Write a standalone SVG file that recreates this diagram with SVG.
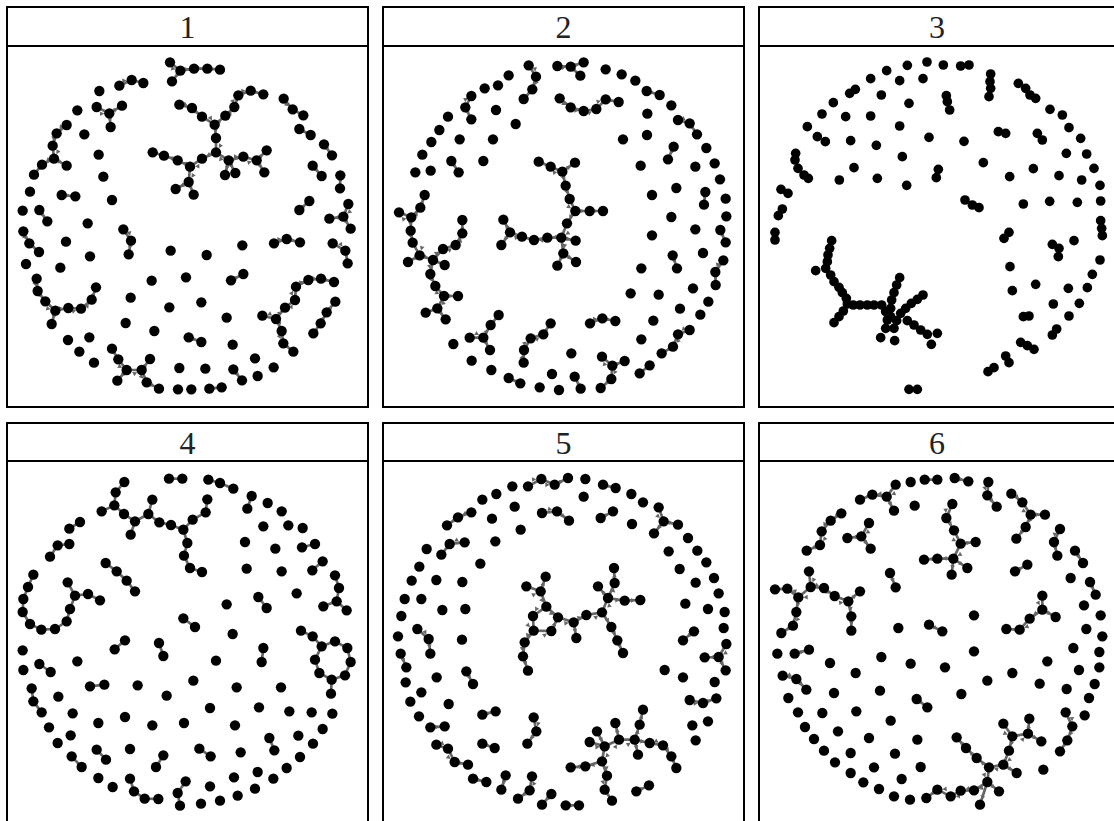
<svg xmlns="http://www.w3.org/2000/svg" width="1114" height="821" viewBox="0 0 1114 821">
<style>
.e{fill:none;stroke:#666;stroke-width:8;stroke-linejoin:round}
.a polyline{marker-mid:url(#ar);marker-end:url(#ar)}
circle{fill:#000}
.fr{fill:#fff;stroke:#000;stroke-width:2}
.hl{stroke:#000;stroke-width:2}
.t{font-family:"Liberation Serif","Times New Roman",serif;font-size:32px;fill:#222;text-anchor:middle}
</style>
<defs>
<marker id="ar" markerUnits="userSpaceOnUse" markerWidth="40" markerHeight="20" refX="28" refY="7" orient="auto" overflow="visible"><path d="M0,0 L13,7 L0,14 z" fill="#666"/></marker>
</defs>
<rect width="1114" height="821" fill="#fff"/>

<!-- Panel 1 -->
<g id="panel1">
<rect class="fr" x="7" y="7" width="361" height="400"/>
<line class="hl" x1="7" y1="46" x2="368" y2="46"/>
<text class="t" x="187.5" y="38">1</text>
<g transform="translate(0,0) scale(0.333333)">
<g id="p1-edges" class="e a">
<polyline points="510,187 541,212 582,206 622,206 660,209"/>
<polyline points="541,212 516,244"/>
<polyline points="358,257 395,240 430,249"/>
<polyline points="290,321 328,340 366,317"/>
<polyline points="328,340 332,381"/>
<polyline points="200,375 170,400 158,437 162,476 126,494 102,524"/>
<polyline points="162,476 200,497"/>
<polyline points="185,585 226,589"/>
<polyline points="118,630 142,664"/>
<polyline points="70,694 88,730 117,756"/>
<polyline points="370,688 393,722 386,763"/>
<polyline points="110,836 113,873 136,904 166,932 205,924 243,926 275,899 288,862"/>
<polyline points="166,932 155,972"/>
<polyline points="336,1046 355,1078 380,1110 425,1110 450,1077"/>
<polyline points="380,1110 352,1142"/>
<polyline points="425,1110 440,1147 477,1166"/>
<polyline points="566,1012 604,1026"/>
<polyline points="628,1166 665,1162"/>
<polyline points="700,1108 726,1141"/>
<polyline points="693,841 730,822"/>
<polyline points="822,730 860,717 900,727"/>
<polyline points="898,630 928,603"/>
<polyline points="787,947 828,957 845,993 850,1030 880,1055"/>
<polyline points="828,957 855,923 885,900 888,860 925,840 963,836 1002,846"/>
<polyline points="940,1000 962,970 980,937 1006,905"/>
<polyline points="851,296 878,328 910,346"/>
<polyline points="898,387 932,405"/>
<polyline points="972,433 996,466"/>
<polyline points="938,497 965,528"/>
<polyline points="1021,526 1020,565"/>
<polyline points="1045,612 1030,650 988,656"/>
<polyline points="1030,650 1052,686"/>
<polyline points="998,730 1036,752 1043,790"/>
<polyline points="538,314 576,324 606,350 644,374 648,414 648,457 606,476 570,500 533,481 492,467 458,457"/>
<polyline points="644,374 676,347 703,321 715,286 752,272 790,283"/>
<polyline points="570,500 566,546 527,567"/>
<polyline points="566,546 581,584"/>
<polyline points="648,457 686,481 730,470 770,481 800,451"/>
<polyline points="686,481 675,525"/>
<polyline points="686,481 706,519"/>
<polyline points="770,481 793,517"/>
</g>
<g id="p1-nodes">
<circle cx="510" cy="187" r="15.5"/><circle cx="541" cy="212" r="15.5"/><circle cx="582" cy="206" r="15.5"/><circle cx="622" cy="206" r="15.5"/><circle cx="660" cy="209" r="15.5"/><circle cx="516" cy="244" r="15.5"/>
<circle cx="358" cy="257" r="15.5"/><circle cx="395" cy="240" r="15.5"/><circle cx="430" cy="249" r="15.5"/>
<circle cx="290" cy="321" r="15.5"/><circle cx="328" cy="340" r="15.5"/><circle cx="366" cy="317" r="15.5"/><circle cx="332" cy="381" r="15.5"/>
<circle cx="200" cy="375" r="15.5"/><circle cx="170" cy="400" r="15.5"/><circle cx="158" cy="437" r="15.5"/><circle cx="162" cy="476" r="15.5"/><circle cx="126" cy="494" r="15.5"/><circle cx="102" cy="524" r="15.5"/><circle cx="200" cy="497" r="15.5"/>
<circle cx="185" cy="585" r="15.5"/><circle cx="226" cy="589" r="15.5"/><circle cx="118" cy="630" r="15.5"/><circle cx="142" cy="664" r="15.5"/>
<circle cx="70" cy="694" r="15.5"/><circle cx="88" cy="730" r="15.5"/><circle cx="117" cy="756" r="15.5"/>
<circle cx="370" cy="688" r="15.5"/><circle cx="393" cy="722" r="15.5"/><circle cx="386" cy="763" r="15.5"/>
<circle cx="110" cy="836" r="15.5"/><circle cx="113" cy="873" r="15.5"/><circle cx="136" cy="904" r="15.5"/><circle cx="166" cy="932" r="15.5"/><circle cx="205" cy="924" r="15.5"/><circle cx="243" cy="926" r="15.5"/><circle cx="275" cy="899" r="15.5"/><circle cx="288" cy="862" r="15.5"/><circle cx="155" cy="972" r="15.5"/>
<circle cx="336" cy="1046" r="15.5"/><circle cx="355" cy="1078" r="15.5"/><circle cx="380" cy="1110" r="15.5"/><circle cx="425" cy="1110" r="15.5"/><circle cx="450" cy="1077" r="15.5"/><circle cx="352" cy="1142" r="15.5"/><circle cx="440" cy="1147" r="15.5"/><circle cx="477" cy="1166" r="15.5"/>
<circle cx="566" cy="1012" r="15.5"/><circle cx="604" cy="1026" r="15.5"/><circle cx="628" cy="1166" r="15.5"/><circle cx="665" cy="1162" r="15.5"/><circle cx="700" cy="1108" r="15.5"/><circle cx="726" cy="1141" r="15.5"/><circle cx="693" cy="841" r="15.5"/><circle cx="730" cy="822" r="15.5"/>
<circle cx="822" cy="730" r="15.5"/><circle cx="860" cy="717" r="15.5"/><circle cx="900" cy="727" r="15.5"/><circle cx="898" cy="630" r="15.5"/><circle cx="928" cy="603" r="15.5"/>
<circle cx="787" cy="947" r="15.5"/><circle cx="828" cy="957" r="15.5"/><circle cx="845" cy="993" r="15.5"/><circle cx="850" cy="1030" r="15.5"/><circle cx="880" cy="1055" r="15.5"/><circle cx="855" cy="923" r="15.5"/><circle cx="885" cy="900" r="15.5"/><circle cx="888" cy="860" r="15.5"/><circle cx="925" cy="840" r="15.5"/><circle cx="963" cy="836" r="15.5"/><circle cx="1002" cy="846" r="15.5"/>
<circle cx="940" cy="1000" r="15.5"/><circle cx="962" cy="970" r="15.5"/><circle cx="980" cy="937" r="15.5"/><circle cx="1006" cy="905" r="15.5"/>
<circle cx="851" cy="296" r="15.5"/><circle cx="878" cy="328" r="15.5"/><circle cx="910" cy="346" r="15.5"/><circle cx="898" cy="387" r="15.5"/><circle cx="932" cy="405" r="15.5"/><circle cx="972" cy="433" r="15.5"/><circle cx="996" cy="466" r="15.5"/><circle cx="938" cy="497" r="15.5"/><circle cx="965" cy="528" r="15.5"/><circle cx="1021" cy="526" r="15.5"/><circle cx="1020" cy="565" r="15.5"/>
<circle cx="1045" cy="612" r="15.5"/><circle cx="1030" cy="650" r="15.5"/><circle cx="988" cy="656" r="15.5"/><circle cx="1052" cy="686" r="15.5"/><circle cx="998" cy="730" r="15.5"/><circle cx="1036" cy="752" r="15.5"/><circle cx="1043" cy="790" r="15.5"/>
<circle cx="538" cy="314" r="15.5"/><circle cx="576" cy="324" r="15.5"/><circle cx="606" cy="350" r="15.5"/><circle cx="644" cy="374" r="15.5"/><circle cx="648" cy="414" r="15.5"/><circle cx="648" cy="457" r="15.5"/><circle cx="606" cy="476" r="15.5"/><circle cx="570" cy="500" r="15.5"/><circle cx="533" cy="481" r="15.5"/><circle cx="492" cy="467" r="15.5"/><circle cx="458" cy="457" r="15.5"/>
<circle cx="676" cy="347" r="15.5"/><circle cx="703" cy="321" r="15.5"/><circle cx="715" cy="286" r="15.5"/><circle cx="752" cy="272" r="15.5"/><circle cx="790" cy="283" r="15.5"/>
<circle cx="566" cy="546" r="15.5"/><circle cx="527" cy="567" r="15.5"/><circle cx="581" cy="584" r="15.5"/><circle cx="686" cy="481" r="15.5"/><circle cx="730" cy="470" r="15.5"/><circle cx="770" cy="481" r="15.5"/><circle cx="800" cy="451" r="15.5"/><circle cx="675" cy="525" r="15.5"/><circle cx="706" cy="519" r="15.5"/><circle cx="793" cy="517" r="15.5"/>
<circle cx="298" cy="273" r="15.5"/><circle cx="232" cy="331" r="15.5"/><circle cx="253" cy="403" r="15.5"/><circle cx="296" cy="464" r="15.5"/><circle cx="310" cy="530" r="15.5"/><circle cx="90" cy="575" r="15.5"/><circle cx="336" cy="600" r="15.5"/><circle cx="68" cy="632" r="15.5"/><circle cx="263" cy="670" r="15.5"/><circle cx="198" cy="725" r="15.5"/><circle cx="270" cy="769" r="15.5"/><circle cx="78" cy="792" r="15.5"/><circle cx="181" cy="803" r="15.5"/><circle cx="392" cy="893" r="15.5"/><circle cx="377" cy="969" r="15.5"/><circle cx="204" cy="1020" r="15.5"/><circle cx="268" cy="1012" r="15.5"/><circle cx="238" cy="1055" r="15.5"/><circle cx="282" cy="1088" r="15.5"/><circle cx="463" cy="993" r="15.5"/><circle cx="455" cy="842" r="15.5"/><circle cx="508" cy="922" r="15.5"/><circle cx="512" cy="752" r="15.5"/><circle cx="558" cy="832" r="15.5"/><circle cx="604" cy="907" r="15.5"/><circle cx="538" cy="1104" r="15.5"/><circle cx="616" cy="1106" r="15.5"/><circle cx="534" cy="1168" r="15.5"/><circle cx="574" cy="1168" r="15.5"/><circle cx="620" cy="765" r="15.5"/><circle cx="727" cy="736" r="15.5"/><circle cx="680" cy="953" r="15.5"/><circle cx="698" cy="1034" r="15.5"/><circle cx="765" cy="1075" r="15.5"/><circle cx="773" cy="1128" r="15.5"/><circle cx="821" cy="1102" r="15.5"/>
</g>
</g>
</g>

<!-- Panel 2 -->
<g id="panel2">
<rect class="fr" x="383" y="7" width="361" height="400"/>
<line class="hl" x1="383" y1="46" x2="744" y2="46"/>
<text class="t" x="563.5" y="38">2</text>
<g transform="translate(378,0) scale(0.333333)">
<g id="p2-edges" class="e a">
<polyline points="452,196 474,230 463,268 437,297"/>
<polyline points="280,288 262,322 280,358"/>
<polyline points="220,483 242,517"/>
<polyline points="538,198 578,200 617,187"/>
<polyline points="578,200 607,227"/>
<polyline points="806,273 845,285"/>
<polyline points="900,360 935,370 957,403"/>
<polyline points="887,440 870,478"/>
<polyline points="982,576 978,614"/>
<polyline points="1027,690 1043,727"/>
<polyline points="884,766 897,805"/>
<polyline points="1036,781 1012,816 1013,855"/>
<polyline points="935,990 900,1003 885,1040 851,1060"/>
<polyline points="815,1096 785,1120"/>
<polyline points="545,295 578,322 617,333 655,327 683,298 722,306"/>
<polyline points="672,1070 703,1097 740,1083"/>
<polyline points="703,1097 700,1137 668,1164"/>
<polyline points="608,1166 590,1130"/>
<polyline points="427,1150 392,1134"/>
<polyline points="275,1013 316,1013 336,1050"/>
<polyline points="316,1013 338,975 362,945"/>
<polyline points="437,1088 438,1050 458,1015 496,1003 518,970"/>
<polyline points="636,970 673,955 712,963"/>
<polyline points="482,485 518,500 553,515 591,488"/>
<polyline points="553,515 563,557 575,597 592,633 635,633 675,633"/>
<polyline points="592,633 567,670 550,713 508,713 468,720 432,710 396,697 376,659"/>
<polyline points="396,697 370,735"/>
<polyline points="550,713 593,722"/>
<polyline points="550,713 556,760 538,797"/>
<polyline points="556,760 594,786"/>
<polyline points="63,637 100,652 127,623 140,585"/>
<polyline points="100,652 98,692 104,728 125,766 90,786"/>
<polyline points="125,766 165,780 200,795"/>
<polyline points="165,780 195,747 233,735 253,700 253,660"/>
<polyline points="165,780 157,822 172,858 198,888 240,888"/>
<polyline points="198,888 178,925 143,938"/>
<polyline points="178,925 203,958"/>
</g>
<g id="p2-nodes">
<circle cx="452" cy="196" r="15.5"/><circle cx="474" cy="230" r="15.5"/><circle cx="463" cy="268" r="15.5"/><circle cx="437" cy="297" r="15.5"/>
<circle cx="280" cy="288" r="15.5"/><circle cx="262" cy="322" r="15.5"/><circle cx="280" cy="358" r="15.5"/><circle cx="220" cy="483" r="15.5"/><circle cx="242" cy="517" r="15.5"/>
<circle cx="538" cy="198" r="15.5"/><circle cx="578" cy="200" r="15.5"/><circle cx="617" cy="187" r="15.5"/><circle cx="607" cy="227" r="15.5"/>
<circle cx="806" cy="273" r="15.5"/><circle cx="845" cy="285" r="15.5"/><circle cx="900" cy="360" r="15.5"/><circle cx="935" cy="370" r="15.5"/><circle cx="957" cy="403" r="15.5"/><circle cx="887" cy="440" r="15.5"/><circle cx="870" cy="478" r="15.5"/>
<circle cx="982" cy="576" r="15.5"/><circle cx="978" cy="614" r="15.5"/><circle cx="1027" cy="690" r="15.5"/><circle cx="1043" cy="727" r="15.5"/><circle cx="884" cy="766" r="15.5"/><circle cx="897" cy="805" r="15.5"/>
<circle cx="1036" cy="781" r="15.5"/><circle cx="1012" cy="816" r="15.5"/><circle cx="1013" cy="855" r="15.5"/>
<circle cx="935" cy="990" r="15.5"/><circle cx="900" cy="1003" r="15.5"/><circle cx="885" cy="1040" r="15.5"/><circle cx="851" cy="1060" r="15.5"/><circle cx="815" cy="1096" r="15.5"/><circle cx="785" cy="1120" r="15.5"/>
<circle cx="545" cy="295" r="15.5"/><circle cx="578" cy="322" r="15.5"/><circle cx="617" cy="333" r="15.5"/><circle cx="655" cy="327" r="15.5"/><circle cx="683" cy="298" r="15.5"/><circle cx="722" cy="306" r="15.5"/>
<circle cx="672" cy="1070" r="15.5"/><circle cx="703" cy="1097" r="15.5"/><circle cx="740" cy="1083" r="15.5"/><circle cx="700" cy="1137" r="15.5"/><circle cx="668" cy="1164" r="15.5"/>
<circle cx="608" cy="1166" r="15.5"/><circle cx="590" cy="1130" r="15.5"/><circle cx="427" cy="1150" r="15.5"/><circle cx="392" cy="1134" r="15.5"/>
<circle cx="275" cy="1013" r="15.5"/><circle cx="316" cy="1013" r="15.5"/><circle cx="336" cy="1050" r="15.5"/><circle cx="338" cy="975" r="15.5"/><circle cx="362" cy="945" r="15.5"/>
<circle cx="437" cy="1088" r="15.5"/><circle cx="438" cy="1050" r="15.5"/><circle cx="458" cy="1015" r="15.5"/><circle cx="496" cy="1003" r="15.5"/><circle cx="518" cy="970" r="15.5"/>
<circle cx="636" cy="970" r="15.5"/><circle cx="673" cy="955" r="15.5"/><circle cx="712" cy="963" r="15.5"/>
<circle cx="482" cy="485" r="15.5"/><circle cx="518" cy="500" r="15.5"/><circle cx="553" cy="515" r="15.5"/><circle cx="591" cy="488" r="15.5"/><circle cx="563" cy="557" r="15.5"/><circle cx="575" cy="597" r="15.5"/><circle cx="592" cy="633" r="15.5"/><circle cx="635" cy="633" r="15.5"/><circle cx="675" cy="633" r="15.5"/>
<circle cx="567" cy="670" r="15.5"/><circle cx="550" cy="713" r="15.5"/><circle cx="508" cy="713" r="15.5"/><circle cx="468" cy="720" r="15.5"/><circle cx="432" cy="710" r="15.5"/><circle cx="396" cy="697" r="15.5"/><circle cx="376" cy="659" r="15.5"/><circle cx="370" cy="735" r="15.5"/><circle cx="593" cy="722" r="15.5"/><circle cx="556" cy="760" r="15.5"/><circle cx="538" cy="797" r="15.5"/><circle cx="594" cy="786" r="15.5"/>
<circle cx="63" cy="637" r="15.5"/><circle cx="100" cy="652" r="15.5"/><circle cx="127" cy="623" r="15.5"/><circle cx="140" cy="585" r="15.5"/><circle cx="98" cy="692" r="15.5"/><circle cx="104" cy="728" r="15.5"/><circle cx="125" cy="766" r="15.5"/><circle cx="90" cy="786" r="15.5"/><circle cx="165" cy="780" r="15.5"/><circle cx="200" cy="795" r="15.5"/>
<circle cx="195" cy="747" r="15.5"/><circle cx="233" cy="735" r="15.5"/><circle cx="253" cy="700" r="15.5"/><circle cx="253" cy="660" r="15.5"/><circle cx="157" cy="822" r="15.5"/><circle cx="172" cy="858" r="15.5"/><circle cx="198" cy="888" r="15.5"/><circle cx="240" cy="888" r="15.5"/><circle cx="178" cy="925" r="15.5"/><circle cx="143" cy="938" r="15.5"/><circle cx="203" cy="958" r="15.5"/>
<circle cx="392" cy="226" r="15.5"/><circle cx="360" cy="256" r="15.5"/><circle cx="320" cy="265" r="15.5"/><circle cx="354" cy="330" r="15.5"/><circle cx="413" cy="372" r="15.5"/><circle cx="345" cy="418" r="15.5"/><circle cx="245" cy="418" r="15.5"/><circle cx="210" cy="350" r="15.5"/><circle cx="184" cy="390" r="15.5"/><circle cx="160" cy="426" r="15.5"/><circle cx="133" cy="464" r="15.5"/><circle cx="112" cy="517" r="15.5"/><circle cx="158" cy="512" r="15.5"/><circle cx="316" cy="483" r="15.5"/>
<circle cx="683" cy="208" r="15.5"/><circle cx="731" cy="223" r="15.5"/><circle cx="772" cy="242" r="15.5"/><circle cx="880" cy="316" r="15.5"/><circle cx="808" cy="341" r="15.5"/><circle cx="807" cy="405" r="15.5"/><circle cx="985" cy="444" r="15.5"/><circle cx="735" cy="418" r="15.5"/><circle cx="1010" cy="490" r="15.5"/><circle cx="952" cy="500" r="15.5"/><circle cx="788" cy="497" r="15.5"/><circle cx="1026" cy="538" r="15.5"/><circle cx="895" cy="564" r="15.5"/><circle cx="1043" cy="596" r="15.5"/><circle cx="822" cy="585" r="15.5"/><circle cx="880" cy="651" r="15.5"/><circle cx="1045" cy="649" r="15.5"/><circle cx="952" cy="688" r="15.5"/><circle cx="822" cy="706" r="15.5"/><circle cx="975" cy="759" r="15.5"/><circle cx="790" cy="805" r="15.5"/><circle cx="945" cy="865" r="15.5"/><circle cx="842" cy="884" r="15.5"/><circle cx="758" cy="880" r="15.5"/><circle cx="991" cy="905" r="15.5"/><circle cx="906" cy="926" r="15.5"/><circle cx="967" cy="944" r="15.5"/><circle cx="826" cy="962" r="15.5"/><circle cx="790" cy="1018" r="15.5"/><circle cx="580" cy="1060" r="15.5"/><circle cx="543" cy="1170" r="15.5"/><circle cx="485" cy="1162" r="15.5"/><circle cx="522" cy="1122" r="15.5"/><circle cx="340" cy="1110" r="15.5"/><circle cx="281" cy="1082" r="15.5"/><circle cx="226" cy="1032" r="15.5"/>
</g>
</g>
</g>

<!-- Panel 3 -->
<g id="panel3">
<rect class="fr" x="759" y="7" width="361" height="400"/>
<line class="hl" x1="759" y1="46" x2="1120" y2="46"/>
<text class="t" x="937" y="38">3</text>
<g transform="translate(754,0) scale(0.333333)">
<g id="p3-nodes">
<circle cx="460" cy="196" r="14.5"/><circle cx="519" cy="186" r="14.5"/><circle cx="568" cy="195" r="14.5"/><circle cx="620" cy="198" r="14.5"/><circle cx="645" cy="195" r="14.5"/><circle cx="398" cy="212" r="14.5"/><circle cx="350" cy="236" r="14.5"/><circle cx="437" cy="242" r="14.5"/><circle cx="507" cy="236" r="14.5"/><circle cx="304" cy="268" r="14.5"/><circle cx="287" cy="280" r="14.5"/><circle cx="238" cy="308" r="14.5"/><circle cx="204" cy="342" r="14.5"/><circle cx="160" cy="380" r="14.5"/><circle cx="382" cy="285" r="14.5"/><circle cx="465" cy="310" r="14.5"/><circle cx="275" cy="350" r="14.5"/><circle cx="350" cy="348" r="14.5"/><circle cx="437" cy="378" r="14.5"/><circle cx="190" cy="410" r="14.5"/><circle cx="214" cy="425" r="14.5"/><circle cx="290" cy="422" r="14.5"/><circle cx="367" cy="436" r="14.5"/><circle cx="525" cy="412" r="14.5"/><circle cx="630" cy="424" r="14.5"/>
<circle cx="577" cy="287" r="14.5"/><circle cx="580" cy="305" r="14.5"/><circle cx="587" cy="330" r="14.5"/><circle cx="710" cy="222" r="14.5"/><circle cx="708" cy="245" r="14.5"/><circle cx="710" cy="265" r="14.5"/><circle cx="705" cy="290" r="14.5"/><circle cx="793" cy="250" r="14.5"/><circle cx="815" cy="265" r="14.5"/><circle cx="828" cy="285" r="14.5"/><circle cx="845" cy="295" r="14.5"/><circle cx="888" cy="328" r="14.5"/><circle cx="925" cy="345" r="14.5"/><circle cx="945" cy="383" r="14.5"/><circle cx="980" cy="415" r="14.5"/><circle cx="733" cy="395" r="14.5"/><circle cx="755" cy="400" r="14.5"/><circle cx="850" cy="400" r="14.5"/><circle cx="865" cy="420" r="14.5"/><circle cx="937" cy="460" r="14.5"/><circle cx="998" cy="462" r="14.5"/><circle cx="1020" cy="505" r="14.5"/>
<circle cx="125" cy="460" r="14.5"/><circle cx="123" cy="480" r="14.5"/><circle cx="132" cy="505" r="14.5"/><circle cx="150" cy="525" r="14.5"/><circle cx="163" cy="535" r="14.5"/><circle cx="300" cy="503" r="14.5"/><circle cx="256" cy="540" r="14.5"/><circle cx="370" cy="535" r="14.5"/><circle cx="445" cy="470" r="14.5"/><circle cx="458" cy="556" r="14.5"/><circle cx="553" cy="508" r="14.5"/><circle cx="547" cy="533" r="14.5"/><circle cx="688" cy="488" r="14.5"/><circle cx="767" cy="530" r="14.5"/><circle cx="838" cy="506" r="14.5"/><circle cx="915" cy="527" r="14.5"/><circle cx="983" cy="540" r="14.5"/><circle cx="1038" cy="556" r="14.5"/>
<circle cx="81" cy="568" r="14.5"/><circle cx="102" cy="580" r="14.5"/><circle cx="85" cy="627" r="14.5"/><circle cx="73" cy="647" r="14.5"/><circle cx="63" cy="697" r="14.5"/><circle cx="63" cy="720" r="14.5"/><circle cx="633" cy="600" r="14.5"/><circle cx="655" cy="615" r="14.5"/><circle cx="675" cy="623" r="14.5"/><circle cx="808" cy="612" r="14.5"/><circle cx="887" cy="604" r="14.5"/><circle cx="970" cy="607" r="14.5"/><circle cx="1040" cy="603" r="14.5"/><circle cx="1040" cy="662" r="14.5"/><circle cx="1043" cy="685" r="14.5"/><circle cx="1045" cy="707" r="14.5"/><circle cx="765" cy="697" r="14.5"/><circle cx="750" cy="715" r="14.5"/>
<circle cx="895" cy="733" r="14.5"/><circle cx="915" cy="745" r="14.5"/><circle cx="960" cy="722" r="14.5"/><circle cx="913" cy="770" r="14.5"/><circle cx="1038" cy="780" r="14.5"/><circle cx="1015" cy="823" r="14.5"/><circle cx="768" cy="800" r="14.5"/><circle cx="845" cy="853" r="14.5"/><circle cx="943" cy="865" r="14.5"/><circle cx="1000" cy="863" r="14.5"/><circle cx="775" cy="872" r="14.5"/><circle cx="898" cy="912" r="14.5"/><circle cx="976" cy="910" r="14.5"/><circle cx="808" cy="950" r="14.5"/><circle cx="825" cy="948" r="14.5"/><circle cx="945" cy="948" r="14.5"/><circle cx="908" cy="987" r="14.5"/><circle cx="895" cy="1005" r="14.5"/><circle cx="800" cy="1027" r="14.5"/><circle cx="820" cy="1037" r="14.5"/><circle cx="840" cy="1048" r="14.5"/><circle cx="755" cy="1068" r="14.5"/><circle cx="765" cy="1088" r="14.5"/><circle cx="720" cy="1103" r="14.5"/><circle cx="702" cy="1115" r="14.5"/><circle cx="465" cy="1168" r="14.5"/><circle cx="490" cy="1168" r="14.5"/>
<circle cx="233" cy="722" r="14.5"/><circle cx="227" cy="745" r="14.5"/><circle cx="222" cy="765" r="14.5"/><circle cx="220" cy="785" r="14.5"/><circle cx="215" cy="805" r="14.5"/><circle cx="185" cy="812" r="14.5"/><circle cx="230" cy="825" r="14.5"/><circle cx="240" cy="845" r="14.5"/><circle cx="255" cy="862" r="14.5"/><circle cx="265" cy="878" r="14.5"/><circle cx="277" cy="895" r="14.5"/><circle cx="280" cy="912" r="14.5"/><circle cx="298" cy="915" r="14.5"/><circle cx="318" cy="915" r="14.5"/><circle cx="340" cy="915" r="14.5"/><circle cx="360" cy="915" r="14.5"/><circle cx="383" cy="915" r="14.5"/><circle cx="395" cy="935" r="14.5"/><circle cx="410" cy="950" r="14.5"/><circle cx="268" cy="933" r="14.5"/><circle cx="255" cy="950" r="14.5"/><circle cx="240" cy="968" r="14.5"/>
<circle cx="437" cy="833" r="14.5"/><circle cx="428" cy="855" r="14.5"/><circle cx="420" cy="878" r="14.5"/><circle cx="413" cy="900" r="14.5"/><circle cx="410" cy="925" r="14.5"/><circle cx="507" cy="885" r="14.5"/><circle cx="490" cy="898" r="14.5"/><circle cx="472" cy="910" r="14.5"/><circle cx="455" cy="925" r="14.5"/><circle cx="440" cy="940" r="14.5"/><circle cx="460" cy="962" r="14.5"/><circle cx="480" cy="975" r="14.5"/><circle cx="500" cy="990" r="14.5"/><circle cx="520" cy="1003" r="14.5"/><circle cx="550" cy="1000" r="14.5"/><circle cx="532" cy="1033" r="14.5"/><circle cx="395" cy="985" r="14.5"/><circle cx="380" cy="1013" r="14.5"/><circle cx="420" cy="985" r="14.5"/><circle cx="422" cy="1022" r="14.5"/><circle cx="400" cy="960" r="14.5"/><circle cx="428" cy="962" r="14.5"/>
</g>
</g>
</g>

<!-- Panel 4 -->
<g id="panel4">
<rect class="fr" x="7" y="423" width="361" height="401"/>
<line class="hl" x1="7" y1="461" x2="368" y2="461"/>
<text class="t" x="187.5" y="454">4</text>
<g transform="translate(0,408) scale(0.333333)">
<g id="p4-edges" class="e">
<polyline points="507,212 547,212"/>
<polyline points="625,215 660,225 700,242"/>
<polyline points="373,222 347,253 343,292 305,310"/>
<polyline points="343,292 372,318 405,340 392,380"/>
<polyline points="405,340 445,318 457,275"/>
<polyline points="445,318 478,343 513,351 550,365 578,335 617,313 622,274"/>
<polyline points="550,365 562,405 552,443 570,480 606,492"/>
<polyline points="755,264 742,302"/>
<polyline points="906,418 945,408"/>
<polyline points="968,460 937,487"/>
<polyline points="1005,502 1017,540 1010,580 970,595"/>
<polyline points="1010,580 1040,607"/>
<polyline points="240,342 208,362"/>
<polyline points="208,408 173,412 150,446"/>
<polyline points="317,465 350,490 380,518 405,550"/>
<polyline points="100,500 84,537 70,573 68,612 90,648 124,665 165,663 200,640 210,603 225,563 203,523"/>
<polyline points="225,563 264,558 300,577"/>
<polyline points="775,567 800,600"/>
<polyline points="550,631 585,657"/>
<polyline points="903,668 938,685 965,715 1005,700 1042,720 1052,762 1035,802 995,815 958,795 945,755 965,715"/>
<polyline points="995,815 993,857"/>
<polyline points="375,697 344,724"/>
<polyline points="477,705 490,744"/>
<polyline points="790,720 785,762"/>
<polyline points="118,768 152,792"/>
<polyline points="270,835 313,830"/>
<polyline points="95,841 100,880 125,913"/>
<polyline points="808,990 823,1027"/>
<polyline points="290,1025 318,1055"/>
<polyline points="598,1022 632,1045"/>
<polyline points="490,1042 468,1077"/>
<polyline points="215,1045 245,1077"/>
<polyline points="390,1112 402,1150 434,1172 475,1173"/>
<polyline points="557,1120 533,1155 540,1193"/>
</g>
<g id="p4-nodes">
<circle cx="507" cy="212" r="15.5"/><circle cx="547" cy="212" r="15.5"/><circle cx="625" cy="215" r="15.5"/><circle cx="660" cy="225" r="15.5"/><circle cx="700" cy="242" r="15.5"/>
<circle cx="373" cy="222" r="15.5"/><circle cx="347" cy="253" r="15.5"/><circle cx="343" cy="292" r="15.5"/><circle cx="305" cy="310" r="15.5"/><circle cx="372" cy="318" r="15.5"/><circle cx="405" cy="340" r="15.5"/><circle cx="392" cy="380" r="15.5"/><circle cx="445" cy="318" r="15.5"/><circle cx="457" cy="275" r="15.5"/><circle cx="478" cy="343" r="15.5"/><circle cx="513" cy="351" r="15.5"/><circle cx="550" cy="365" r="15.5"/><circle cx="578" cy="335" r="15.5"/><circle cx="617" cy="313" r="15.5"/><circle cx="622" cy="274" r="15.5"/><circle cx="562" cy="405" r="15.5"/><circle cx="552" cy="443" r="15.5"/><circle cx="570" cy="480" r="15.5"/><circle cx="606" cy="492" r="15.5"/>
<circle cx="755" cy="264" r="15.5"/><circle cx="742" cy="302" r="15.5"/><circle cx="906" cy="418" r="15.5"/><circle cx="945" cy="408" r="15.5"/><circle cx="968" cy="460" r="15.5"/><circle cx="937" cy="487" r="15.5"/><circle cx="1005" cy="502" r="15.5"/><circle cx="1017" cy="540" r="15.5"/><circle cx="1010" cy="580" r="15.5"/><circle cx="970" cy="595" r="15.5"/><circle cx="1040" cy="607" r="15.5"/>
<circle cx="240" cy="342" r="15.5"/><circle cx="208" cy="362" r="15.5"/><circle cx="208" cy="408" r="15.5"/><circle cx="173" cy="412" r="15.5"/><circle cx="150" cy="446" r="15.5"/><circle cx="317" cy="465" r="15.5"/><circle cx="350" cy="490" r="15.5"/><circle cx="380" cy="518" r="15.5"/><circle cx="405" cy="550" r="15.5"/>
<circle cx="100" cy="500" r="15.5"/><circle cx="84" cy="537" r="15.5"/><circle cx="70" cy="573" r="15.5"/><circle cx="68" cy="612" r="15.5"/><circle cx="90" cy="648" r="15.5"/><circle cx="124" cy="665" r="15.5"/><circle cx="165" cy="663" r="15.5"/><circle cx="200" cy="640" r="15.5"/><circle cx="210" cy="603" r="15.5"/><circle cx="225" cy="563" r="15.5"/><circle cx="203" cy="523" r="15.5"/><circle cx="264" cy="558" r="15.5"/><circle cx="300" cy="577" r="15.5"/>
<circle cx="775" cy="567" r="15.5"/><circle cx="800" cy="600" r="15.5"/><circle cx="550" cy="631" r="15.5"/><circle cx="585" cy="657" r="15.5"/>
<circle cx="903" cy="668" r="15.5"/><circle cx="938" cy="685" r="15.5"/><circle cx="965" cy="715" r="15.5"/><circle cx="1005" cy="700" r="15.5"/><circle cx="1042" cy="720" r="15.5"/><circle cx="1052" cy="762" r="15.5"/><circle cx="1035" cy="802" r="15.5"/><circle cx="995" cy="815" r="15.5"/><circle cx="958" cy="795" r="15.5"/><circle cx="945" cy="755" r="15.5"/><circle cx="993" cy="857" r="15.5"/>
<circle cx="375" cy="697" r="15.5"/><circle cx="344" cy="724" r="15.5"/><circle cx="477" cy="705" r="15.5"/><circle cx="490" cy="744" r="15.5"/><circle cx="790" cy="720" r="15.5"/><circle cx="785" cy="762" r="15.5"/><circle cx="118" cy="768" r="15.5"/><circle cx="152" cy="792" r="15.5"/><circle cx="270" cy="835" r="15.5"/><circle cx="313" cy="830" r="15.5"/><circle cx="95" cy="841" r="15.5"/><circle cx="100" cy="880" r="15.5"/><circle cx="125" cy="913" r="15.5"/>
<circle cx="808" cy="990" r="15.5"/><circle cx="823" cy="1027" r="15.5"/><circle cx="290" cy="1025" r="15.5"/><circle cx="318" cy="1055" r="15.5"/><circle cx="598" cy="1022" r="15.5"/><circle cx="632" cy="1045" r="15.5"/><circle cx="490" cy="1042" r="15.5"/><circle cx="468" cy="1077" r="15.5"/><circle cx="215" cy="1045" r="15.5"/><circle cx="245" cy="1077" r="15.5"/>
<circle cx="390" cy="1112" r="15.5"/><circle cx="402" cy="1150" r="15.5"/><circle cx="434" cy="1172" r="15.5"/><circle cx="475" cy="1173" r="15.5"/><circle cx="557" cy="1120" r="15.5"/><circle cx="533" cy="1155" r="15.5"/><circle cx="540" cy="1193" r="15.5"/>
<circle cx="803" cy="285" r="15.5"/><circle cx="845" cy="310" r="15.5"/><circle cx="790" cy="355" r="15.5"/><circle cx="865" cy="352" r="15.5"/><circle cx="908" cy="360" r="15.5"/><circle cx="735" cy="402" r="15.5"/><circle cx="826" cy="422" r="15.5"/><circle cx="740" cy="482" r="15.5"/><circle cx="845" cy="490" r="15.5"/><circle cx="680" cy="589" r="15.5"/><circle cx="890" cy="556" r="15.5"/><circle cx="698" cy="678" r="15.5"/><circle cx="648" cy="758" r="15.5"/><circle cx="232" cy="760" r="15.5"/><circle cx="68" cy="727" r="15.5"/><circle cx="70" cy="786" r="15.5"/><circle cx="580" cy="818" r="15.5"/><circle cx="710" cy="838" r="15.5"/><circle cx="843" cy="838" r="15.5"/><circle cx="413" cy="832" r="15.5"/><circle cx="500" cy="863" r="15.5"/><circle cx="175" cy="866" r="15.5"/><circle cx="630" cy="900" r="15.5"/><circle cx="777" cy="898" r="15.5"/><circle cx="868" cy="910" r="15.5"/><circle cx="935" cy="913" r="15.5"/><circle cx="997" cy="917" r="15.5"/><circle cx="218" cy="916" r="15.5"/><circle cx="375" cy="927" r="15.5"/><circle cx="295" cy="945" r="15.5"/><circle cx="457" cy="952" r="15.5"/><circle cx="552" cy="945" r="15.5"/><circle cx="705" cy="952" r="15.5"/><circle cx="147" cy="958" r="15.5"/><circle cx="212" cy="982" r="15.5"/><circle cx="968" cy="963" r="15.5"/><circle cx="895" cy="983" r="15.5"/><circle cx="939" cy="1007" r="15.5"/><circle cx="173" cy="1005" r="15.5"/><circle cx="390" cy="1023" r="15.5"/><circle cx="722" cy="1033" r="15.5"/><circle cx="900" cy="1047" r="15.5"/><circle cx="860" cy="1080" r="15.5"/><circle cx="773" cy="1092" r="15.5"/><circle cx="820" cy="1112" r="15.5"/><circle cx="702" cy="1108" r="15.5"/><circle cx="295" cy="1110" r="15.5"/><circle cx="338" cy="1137" r="15.5"/><circle cx="630" cy="1135" r="15.5"/><circle cx="603" cy="1187" r="15.5"/><circle cx="660" cy="1178" r="15.5"/><circle cx="713" cy="1163" r="15.5"/><circle cx="765" cy="1142" r="15.5"/>
</g>
</g>
</g>

<!-- Panel 5 -->
<g id="panel5">
<rect class="fr" x="383" y="423" width="361" height="401"/>
<line class="hl" x1="383" y1="461" x2="744" y2="461"/>
<text class="t" x="563.5" y="454">5</text>
<g transform="translate(378,408) scale(0.333333)">
<g id="p5-edges" class="e a">
<polyline points="450,235 490,213 530,230 570,210"/>
<polyline points="675,230 713,240"/>
<polyline points="842,298 857,340 900,350"/>
<polyline points="857,340 828,376"/>
<polyline points="280,313 240,328 207,352"/>
<polyline points="492,315 537,310 573,338"/>
<polyline points="668,330 705,310"/>
<polyline points="260,403 215,408 190,440"/>
<polyline points="948,670 915,697"/>
<polyline points="118,663 152,693 157,737"/>
<polyline points="1045,708 1022,747 980,748"/>
<polyline points="1022,747 1043,787"/>
<polyline points="68,737 85,778"/>
<polyline points="265,790 285,828"/>
<polyline points="935,876 975,885 1015,871"/>
<polyline points="157,958 200,955"/>
<polyline points="313,920 353,910"/>
<polyline points="467,928 475,970 448,1007"/>
<polyline points="313,1007 350,1020"/>
<polyline points="175,1010 210,1022 230,1062 270,1070"/>
<polyline points="285,1112 325,1122"/>
<polyline points="383,1102 370,1145"/>
<polyline points="462,1105 455,1147 420,1172"/>
<polyline points="520,1158 492,1190"/>
<polyline points="563,1192 603,1192"/>
<polyline points="775,1150 813,1132"/>
<polyline points="445,535 488,550 503,506"/>
<polyline points="488,550 505,596 540,628 587,643 625,621 672,613 690,570 660,535"/>
<polyline points="690,570 710,525 708,480"/>
<polyline points="690,570 740,578 787,576"/>
<polyline points="672,613 700,657 718,697 735,735"/>
<polyline points="587,643 595,690"/>
<polyline points="505,596 465,624 467,668 520,669 540,628"/>
<polyline points="467,668 440,703 435,745 450,788"/>
<polyline points="657,970 680,1015"/>
<polyline points="635,1002 680,1015 723,995 712,945"/>
<polyline points="723,995 770,995 785,950 795,905"/>
<polyline points="770,995 780,1040"/>
<polyline points="770,995 815,1005 855,1012 880,1045 895,1080"/>
<polyline points="680,1015 672,1060 622,1075 578,1078"/>
<polyline points="672,1060 687,1103 680,1145 702,1178"/>
</g>
<g id="p5-nodes">
<circle cx="450" cy="235" r="15.5"/><circle cx="490" cy="213" r="15.5"/><circle cx="530" cy="230" r="15.5"/><circle cx="570" cy="210" r="15.5"/><circle cx="675" cy="230" r="15.5"/><circle cx="713" cy="240" r="15.5"/><circle cx="842" cy="298" r="15.5"/><circle cx="857" cy="340" r="15.5"/><circle cx="900" cy="350" r="15.5"/><circle cx="828" cy="376" r="15.5"/>
<circle cx="280" cy="313" r="15.5"/><circle cx="240" cy="328" r="15.5"/><circle cx="207" cy="352" r="15.5"/><circle cx="492" cy="315" r="15.5"/><circle cx="537" cy="310" r="15.5"/><circle cx="573" cy="338" r="15.5"/><circle cx="668" cy="330" r="15.5"/><circle cx="705" cy="310" r="15.5"/><circle cx="260" cy="403" r="15.5"/><circle cx="215" cy="408" r="15.5"/><circle cx="190" cy="440" r="15.5"/>
<circle cx="948" cy="670" r="15.5"/><circle cx="915" cy="697" r="15.5"/><circle cx="118" cy="663" r="15.5"/><circle cx="152" cy="693" r="15.5"/><circle cx="157" cy="737" r="15.5"/><circle cx="1045" cy="708" r="15.5"/><circle cx="1022" cy="747" r="15.5"/><circle cx="980" cy="748" r="15.5"/><circle cx="1043" cy="787" r="15.5"/><circle cx="68" cy="737" r="15.5"/><circle cx="85" cy="778" r="15.5"/><circle cx="265" cy="790" r="15.5"/><circle cx="285" cy="828" r="15.5"/>
<circle cx="935" cy="876" r="15.5"/><circle cx="975" cy="885" r="15.5"/><circle cx="1015" cy="871" r="15.5"/><circle cx="157" cy="958" r="15.5"/><circle cx="200" cy="955" r="15.5"/><circle cx="313" cy="920" r="15.5"/><circle cx="353" cy="910" r="15.5"/><circle cx="467" cy="928" r="15.5"/><circle cx="475" cy="970" r="15.5"/><circle cx="448" cy="1007" r="15.5"/><circle cx="313" cy="1007" r="15.5"/><circle cx="350" cy="1020" r="15.5"/>
<circle cx="175" cy="1010" r="15.5"/><circle cx="210" cy="1022" r="15.5"/><circle cx="230" cy="1062" r="15.5"/><circle cx="270" cy="1070" r="15.5"/><circle cx="285" cy="1112" r="15.5"/><circle cx="325" cy="1122" r="15.5"/><circle cx="383" cy="1102" r="15.5"/><circle cx="370" cy="1145" r="15.5"/><circle cx="462" cy="1105" r="15.5"/><circle cx="455" cy="1147" r="15.5"/><circle cx="420" cy="1172" r="15.5"/><circle cx="520" cy="1158" r="15.5"/><circle cx="492" cy="1190" r="15.5"/><circle cx="563" cy="1192" r="15.5"/><circle cx="603" cy="1192" r="15.5"/><circle cx="775" cy="1150" r="15.5"/><circle cx="813" cy="1132" r="15.5"/>
<circle cx="445" cy="535" r="15.5"/><circle cx="488" cy="550" r="15.5"/><circle cx="503" cy="506" r="15.5"/><circle cx="505" cy="596" r="15.5"/><circle cx="540" cy="628" r="15.5"/><circle cx="587" cy="643" r="15.5"/><circle cx="625" cy="621" r="15.5"/><circle cx="672" cy="613" r="15.5"/><circle cx="690" cy="570" r="15.5"/><circle cx="660" cy="535" r="15.5"/><circle cx="710" cy="525" r="15.5"/><circle cx="708" cy="480" r="15.5"/><circle cx="740" cy="578" r="15.5"/><circle cx="787" cy="576" r="15.5"/><circle cx="700" cy="657" r="15.5"/><circle cx="718" cy="697" r="15.5"/><circle cx="735" cy="735" r="15.5"/><circle cx="595" cy="690" r="15.5"/><circle cx="465" cy="624" r="15.5"/><circle cx="467" cy="668" r="15.5"/><circle cx="520" cy="669" r="15.5"/><circle cx="440" cy="703" r="15.5"/><circle cx="435" cy="745" r="15.5"/><circle cx="450" cy="788" r="15.5"/>
<circle cx="657" cy="970" r="15.5"/><circle cx="680" cy="1015" r="15.5"/><circle cx="635" cy="1002" r="15.5"/><circle cx="723" cy="995" r="15.5"/><circle cx="712" cy="945" r="15.5"/><circle cx="770" cy="995" r="15.5"/><circle cx="785" cy="950" r="15.5"/><circle cx="795" cy="905" r="15.5"/><circle cx="780" cy="1040" r="15.5"/><circle cx="815" cy="1005" r="15.5"/><circle cx="855" cy="1012" r="15.5"/><circle cx="880" cy="1045" r="15.5"/><circle cx="895" cy="1080" r="15.5"/><circle cx="672" cy="1060" r="15.5"/><circle cx="622" cy="1075" r="15.5"/><circle cx="578" cy="1078" r="15.5"/><circle cx="687" cy="1103" r="15.5"/><circle cx="680" cy="1145" r="15.5"/><circle cx="702" cy="1178" r="15.5"/>
<circle cx="403" cy="235" r="15.5"/><circle cx="622" cy="213" r="15.5"/><circle cx="760" cy="258" r="15.5"/><circle cx="795" cy="283" r="15.5"/><circle cx="355" cy="258" r="15.5"/><circle cx="313" cy="275" r="15.5"/><circle cx="410" cy="296" r="15.5"/><circle cx="342" cy="332" r="15.5"/><circle cx="617" cy="266" r="15.5"/><circle cx="762" cy="348" r="15.5"/><circle cx="428" cy="365" r="15.5"/><circle cx="352" cy="400" r="15.5"/><circle cx="146" cy="423" r="15.5"/><circle cx="930" cy="390" r="15.5"/><circle cx="958" cy="428" r="15.5"/><circle cx="872" cy="430" r="15.5"/><circle cx="985" cy="463" r="15.5"/><circle cx="905" cy="483" r="15.5"/><circle cx="124" cy="476" r="15.5"/><circle cx="307" cy="467" r="15.5"/><circle cx="1008" cy="510" r="15.5"/><circle cx="953" cy="524" r="15.5"/><circle cx="101" cy="518" r="15.5"/><circle cx="175" cy="516" r="15.5"/><circle cx="253" cy="522" r="15.5"/><circle cx="1022" cy="556" r="15.5"/><circle cx="80" cy="573" r="15.5"/><circle cx="130" cy="573" r="15.5"/><circle cx="922" cy="587" r="15.5"/><circle cx="990" cy="603" r="15.5"/><circle cx="193" cy="606" r="15.5"/><circle cx="262" cy="603" r="15.5"/><circle cx="1040" cy="612" r="15.5"/><circle cx="70" cy="624" r="15.5"/><circle cx="1037" cy="660" r="15.5"/><circle cx="60" cy="685" r="15.5"/><circle cx="252" cy="695" r="15.5"/><circle cx="860" cy="786" r="15.5"/><circle cx="915" cy="808" r="15.5"/><circle cx="176" cy="808" r="15.5"/><circle cx="83" cy="823" r="15.5"/><circle cx="1010" cy="822" r="15.5"/><circle cx="130" cy="853" r="15.5"/><circle cx="97" cy="881" r="15.5"/><circle cx="212" cy="888" r="15.5"/><circle cx="123" cy="925" r="15.5"/><circle cx="943" cy="952" r="15.5"/><circle cx="990" cy="940" r="15.5"/><circle cx="953" cy="997" r="15.5"/>
</g>
</g>
</g>

<!-- Panel 6 -->
<g id="panel6">
<rect class="fr" x="759" y="423" width="361" height="401"/>
<line class="hl" x1="759" y1="461" x2="1120" y2="461"/>
<text class="t" x="937" y="454">6</text>
<g transform="translate(754,408) scale(0.333333)">
<g id="p6-edges" class="e a">
<polyline points="512,215 550,215"/>
<polyline points="602,210 643,220"/>
<polyline points="703,222 700,262 728,296"/>
<polyline points="425,230 398,266 355,260 318,275"/>
<polyline points="398,266 420,308"/>
<polyline points="262,316 230,338 203,370 198,411 158,428"/>
<polyline points="345,345 322,385 280,390"/>
<polyline points="322,385 350,422"/>
<polyline points="595,288 577,330 600,367 620,407 665,402"/>
<polyline points="620,407 598,452 550,452 510,455"/>
<polyline points="598,452 593,500"/>
<polyline points="598,452 640,480"/>
<polyline points="772,257 805,283 830,320 873,320"/>
<polyline points="830,320 815,357 787,392"/>
<polyline points="918,363 900,402 910,443"/>
<polyline points="963,428 987,465"/>
<polyline points="783,490 820,470"/>
<polyline points="408,495 425,538"/>
<polyline points="1008,522 1025,560"/>
<polyline points="165,490 170,537 133,568 100,542 63,544"/>
<polyline points="170,537 210,540 242,564 283,580 318,550"/>
<polyline points="283,580 292,625 292,668"/>
<polyline points="133,568 127,612 117,653 82,675"/>
<polyline points="865,563 865,605 905,627"/>
<polyline points="865,605 827,632 797,665 757,663"/>
<polyline points="525,650 565,670"/>
<polyline points="122,737 165,725"/>
<polyline points="86,803 127,813 157,845"/>
<polyline points="488,873 520,898"/>
<polyline points="935,913 955,955 940,997 918,1030"/>
<polyline points="748,947 775,985 822,977 826,932"/>
<polyline points="822,977 862,1000"/>
<polyline points="775,985 765,1028 748,1070 705,1078 668,1050 636,1020 608,988"/>
<polyline points="748,1070 788,1095"/>
<polyline points="705,1078 700,1122 735,1150"/>
<polyline points="700,1122 678,1190"/>
<polyline points="700,1122 660,1147 620,1148 590,1165 550,1145 517,1170"/>
</g>
<g id="p6-nodes">
<circle cx="512" cy="215" r="15.5"/><circle cx="550" cy="215" r="15.5"/><circle cx="602" cy="210" r="15.5"/><circle cx="643" cy="220" r="15.5"/><circle cx="703" cy="222" r="15.5"/><circle cx="700" cy="262" r="15.5"/><circle cx="728" cy="296" r="15.5"/>
<circle cx="425" cy="230" r="15.5"/><circle cx="398" cy="266" r="15.5"/><circle cx="355" cy="260" r="15.5"/><circle cx="318" cy="275" r="15.5"/><circle cx="420" cy="308" r="15.5"/><circle cx="262" cy="316" r="15.5"/><circle cx="230" cy="338" r="15.5"/><circle cx="203" cy="370" r="15.5"/><circle cx="198" cy="411" r="15.5"/><circle cx="158" cy="428" r="15.5"/>
<circle cx="345" cy="345" r="15.5"/><circle cx="322" cy="385" r="15.5"/><circle cx="280" cy="390" r="15.5"/><circle cx="350" cy="422" r="15.5"/>
<circle cx="595" cy="288" r="15.5"/><circle cx="577" cy="330" r="15.5"/><circle cx="600" cy="367" r="15.5"/><circle cx="620" cy="407" r="15.5"/><circle cx="665" cy="402" r="15.5"/><circle cx="598" cy="452" r="15.5"/><circle cx="550" cy="452" r="15.5"/><circle cx="510" cy="455" r="15.5"/><circle cx="593" cy="500" r="15.5"/><circle cx="640" cy="480" r="15.5"/>
<circle cx="772" cy="257" r="15.5"/><circle cx="805" cy="283" r="15.5"/><circle cx="830" cy="320" r="15.5"/><circle cx="873" cy="320" r="15.5"/><circle cx="815" cy="357" r="15.5"/><circle cx="787" cy="392" r="15.5"/><circle cx="918" cy="363" r="15.5"/><circle cx="900" cy="402" r="15.5"/><circle cx="910" cy="443" r="15.5"/><circle cx="963" cy="428" r="15.5"/><circle cx="987" cy="465" r="15.5"/><circle cx="783" cy="490" r="15.5"/><circle cx="820" cy="470" r="15.5"/><circle cx="408" cy="495" r="15.5"/><circle cx="425" cy="538" r="15.5"/><circle cx="1008" cy="522" r="15.5"/><circle cx="1025" cy="560" r="15.5"/>
<circle cx="165" cy="490" r="15.5"/><circle cx="170" cy="537" r="15.5"/><circle cx="133" cy="568" r="15.5"/><circle cx="100" cy="542" r="15.5"/><circle cx="63" cy="544" r="15.5"/><circle cx="210" cy="540" r="15.5"/><circle cx="242" cy="564" r="15.5"/><circle cx="283" cy="580" r="15.5"/><circle cx="318" cy="550" r="15.5"/><circle cx="292" cy="625" r="15.5"/><circle cx="292" cy="668" r="15.5"/><circle cx="127" cy="612" r="15.5"/><circle cx="117" cy="653" r="15.5"/><circle cx="82" cy="675" r="15.5"/>
<circle cx="865" cy="563" r="15.5"/><circle cx="865" cy="605" r="15.5"/><circle cx="905" cy="627" r="15.5"/><circle cx="827" cy="632" r="15.5"/><circle cx="797" cy="665" r="15.5"/><circle cx="757" cy="663" r="15.5"/><circle cx="525" cy="650" r="15.5"/><circle cx="565" cy="670" r="15.5"/><circle cx="122" cy="737" r="15.5"/><circle cx="165" cy="725" r="15.5"/><circle cx="86" cy="803" r="15.5"/><circle cx="127" cy="813" r="15.5"/><circle cx="157" cy="845" r="15.5"/><circle cx="488" cy="873" r="15.5"/><circle cx="520" cy="898" r="15.5"/>
<circle cx="935" cy="913" r="15.5"/><circle cx="955" cy="955" r="15.5"/><circle cx="940" cy="997" r="15.5"/><circle cx="918" cy="1030" r="15.5"/>
<circle cx="748" cy="947" r="15.5"/><circle cx="775" cy="985" r="15.5"/><circle cx="822" cy="977" r="15.5"/><circle cx="826" cy="932" r="15.5"/><circle cx="862" cy="1000" r="15.5"/><circle cx="765" cy="1028" r="15.5"/><circle cx="748" cy="1070" r="15.5"/><circle cx="705" cy="1078" r="15.5"/><circle cx="668" cy="1050" r="15.5"/><circle cx="636" cy="1020" r="15.5"/><circle cx="608" cy="988" r="15.5"/><circle cx="788" cy="1095" r="15.5"/><circle cx="700" cy="1122" r="15.5"/><circle cx="735" cy="1150" r="15.5"/><circle cx="678" cy="1190" r="15.5"/><circle cx="660" cy="1147" r="15.5"/><circle cx="620" cy="1148" r="15.5"/><circle cx="590" cy="1165" r="15.5"/><circle cx="550" cy="1145" r="15.5"/><circle cx="517" cy="1170" r="15.5"/>
<circle cx="470" cy="222" r="15.5"/><circle cx="482" cy="293" r="15.5"/><circle cx="950" cy="510" r="15.5"/><circle cx="990" cy="592" r="15.5"/><circle cx="1040" cy="622" r="15.5"/><circle cx="997" cy="663" r="15.5"/><circle cx="1045" cy="685" r="15.5"/><circle cx="660" cy="622" r="15.5"/><circle cx="433" cy="660" r="15.5"/><circle cx="958" cy="720" r="15.5"/><circle cx="1036" cy="732" r="15.5"/><circle cx="660" cy="730" r="15.5"/><circle cx="880" cy="760" r="15.5"/><circle cx="975" cy="786" r="15.5"/><circle cx="1036" cy="778" r="15.5"/><circle cx="70" cy="737" r="15.5"/><circle cx="228" cy="765" r="15.5"/><circle cx="382" cy="747" r="15.5"/><circle cx="470" cy="767" r="15.5"/><circle cx="573" cy="778" r="15.5"/><circle cx="305" cy="795" r="15.5"/><circle cx="700" cy="818" r="15.5"/><circle cx="775" cy="795" r="15.5"/><circle cx="857" cy="827" r="15.5"/><circle cx="938" cy="843" r="15.5"/><circle cx="1022" cy="828" r="15.5"/><circle cx="240" cy="855" r="15.5"/><circle cx="378" cy="848" r="15.5"/><circle cx="622" cy="858" r="15.5"/><circle cx="103" cy="870" r="15.5"/><circle cx="1005" cy="870" r="15.5"/><circle cx="132" cy="913" r="15.5"/><circle cx="205" cy="915" r="15.5"/><circle cx="307" cy="910" r="15.5"/><circle cx="410" cy="938" r="15.5"/><circle cx="992" cy="922" r="15.5"/><circle cx="153" cy="957" r="15.5"/><circle cx="252" cy="970" r="15.5"/><circle cx="345" cy="990" r="15.5"/><circle cx="490" cy="995" r="15.5"/><circle cx="180" cy="993" r="15.5"/><circle cx="210" cy="1028" r="15.5"/><circle cx="290" cy="1035" r="15.5"/><circle cx="423" cy="1037" r="15.5"/><circle cx="243" cy="1063" r="15.5"/><circle cx="360" cy="1078" r="15.5"/><circle cx="500" cy="1077" r="15.5"/><circle cx="290" cy="1095" r="15.5"/><circle cx="443" cy="1113" r="15.5"/><circle cx="328" cy="1123" r="15.5"/><circle cx="375" cy="1143" r="15.5"/><circle cx="420" cy="1165" r="15.5"/><circle cx="468" cy="1175" r="15.5"/><circle cx="868" cy="1085" r="15.5"/>
</g>
</g>
</g>
</svg>
